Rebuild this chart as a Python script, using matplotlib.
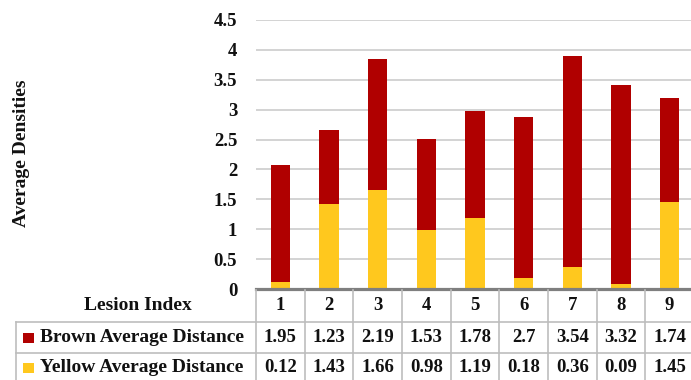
import matplotlib
matplotlib.use("Agg")
import matplotlib.pyplot as plt
from matplotlib.lines import Line2D
from matplotlib.patches import Rectangle
from matplotlib.transforms import blended_transform_factory

# Data
lesions = ["1", "2", "3", "4", "5", "6", "7", "8", "9"]
brown = [1.95, 1.23, 2.19, 1.53, 1.78, 2.7, 3.54, 3.32, 1.74]
yellow = [0.12, 1.43, 1.66, 0.98, 1.19, 0.18, 0.36, 0.09, 1.45]
brown_labels = ["1.95", "1.23", "2.19", "1.53", "1.78", "2.7", "3.54", "3.32", "1.74"]
yellow_labels = ["0.12", "1.43", "1.66", "0.98", "1.19", "0.18", "0.36", "0.09", "1.45"]
y_ticks = [0, 0.5, 1, 1.5, 2, 2.5, 3, 3.5, 4, 4.5]
y_tick_labels = ["0", "0.5", "1", "1.5", "2", "2.5", "3", "3.5", "4", "4.5"]
series_names = ["Brown Average Distance", "Yellow Average Distance"]

BROWN = "#B00000"
YELLOW = "#FFC81E"
GRID = "#C8C8C8"
TABLE = "#BDBDBD"
AXIS = "#7F7F7F"
TXT = "#111111"

W, H = 691, 380
plt.rcParams["font.family"] = ["Liberation Serif", "DejaVu Serif"]

fig = plt.figure(figsize=(W / 100, H / 100), dpi=100)
ax = fig.add_axes([256 / W, 91 / H, 435 / W, 269 / H])

x = list(range(len(lesions)))
ax.bar(x, yellow, width=0.4, color=YELLOW, zorder=3)
ax.bar(x, brown, width=0.4, bottom=yellow, color=BROWN, zorder=3)

ax.set_xlim(-0.5, 8.44)
ax.set_ylim(0, 4.5)
ax.set_yticks(y_ticks)
ax.set_yticklabels(y_tick_labels, fontsize=13.5, fontweight="bold", color=TXT)
ax.set_xticks([])
ax.tick_params(axis="y", length=0, pad=13.5)
ax.yaxis.grid(True, color=GRID, linewidth=1.1, zorder=0)
ax.set_axisbelow(True)
for s in ("top", "right", "left"):
    ax.spines[s].set_visible(False)
ax.spines["bottom"].set_color(AXIS)
ax.spines["bottom"].set_linewidth(2.3)
ax.spines["bottom"].set_zorder(4)

fig.text(22 / W, 1 - 153 / H, "Average Densities", rotation=90, ha="center",
         va="center", fontsize=14, fontweight="bold", color=TXT)

# Data table under the plot
tr = blended_transform_factory(ax.transData, fig.transFigure)


def fy(py):
    return 1 - py / H


def fx(px):
    return px / W


row_y = [306, 338, 368]
row_lines = [322, 353]
for py in row_lines:
    fig.add_artist(Line2D([fx(16), 1], [fy(py), fy(py)], color=TABLE,
                          linewidth=1.2, transform=fig.transFigure))
fig.add_artist(Line2D([fx(16), fx(16)], [fy(322), fy(382)], color=TABLE,
                      linewidth=1.2, transform=fig.transFigure))
for i in range(len(lesions) + 1):
    xb = i - 0.5
    fig.add_artist(Line2D([xb, xb], [fy(290), fy(382)], color=TABLE,
                          linewidth=1.2, transform=tr))

fig.text(fx(138), fy(row_y[0]), "Lesion Index", ha="center", va="center",
         fontsize=14, fontweight="bold", color=TXT)
for i, lab in enumerate(lesions):
    fig.text(i, fy(row_y[0]), lab, ha="center", va="center", fontsize=13.5,
             fontweight="bold", color=TXT, transform=tr)
for row, labels in ((1, brown_labels), (2, yellow_labels)):
    for i, lab in enumerate(labels):
        fig.text(i, fy(row_y[row]), lab, ha="center", va="center",
                 fontsize=13.5, fontweight="bold", color=TXT, transform=tr)

for row, (name, col) in enumerate(zip(series_names, (BROWN, YELLOW)), start=1):
    cy = row_y[row]
    fig.add_artist(Rectangle((fx(23), fy(cy + 5)), 11 / W, 10 / H,
                             facecolor=col, edgecolor="none",
                             transform=fig.transFigure))
    fig.text(fx(40), fy(cy), name, ha="left", va="center", fontsize=14,
             fontweight="bold", color=TXT)

fig.savefig("out.png", dpi=100, facecolor="white")
